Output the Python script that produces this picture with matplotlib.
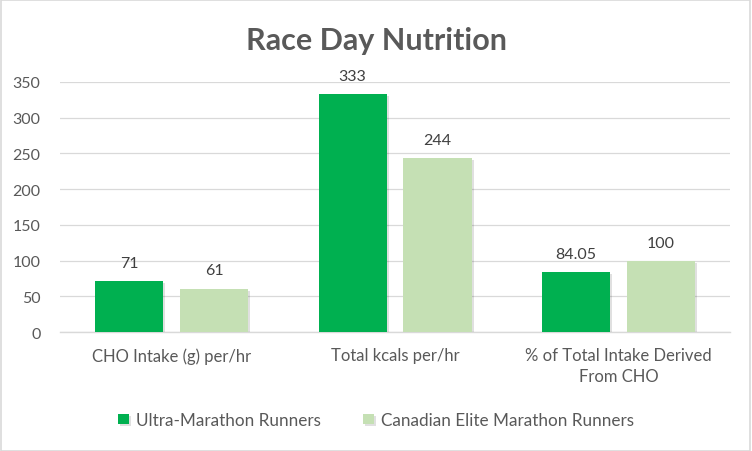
import matplotlib.pyplot as plt
import matplotlib.patheffects as pe
import numpy as np
from matplotlib.patches import Rectangle

categories = ["CHO Intake (g) per/hr", "Total kcals per/hr", "% of Total Intake Derived\nFrom CHO"]
series_names = ["Ultra-Marathon Runners", "Canadian Elite Marathon Runners"]
ultra = [71, 333, 84.05]
elite = [61, 244, 100]
value_labels = [["71", "333", "84.05"], ["61", "244", "100"]]
colors = ["#00B050", "#C5E0B4"]

plt.rcParams["font.family"] = ["Lato", "DejaVu Sans"]

fig = plt.figure(figsize=(7.52, 4.52), dpi=100)
ax = fig.add_axes([0.0798, 0.263, 0.891, 0.5535])

x = np.arange(len(categories))
width = 0.305
offset = 0.19
shadow = [pe.SimplePatchShadow(offset=(1.5, -1.5), shadow_rgbFace="#000000", alpha=0.12), pe.Normal()]

for i, (vals, name) in enumerate(zip([ultra, elite], series_names)):
    pos = x + (offset if i else -offset)
    bars = ax.bar(pos, vals, width, color=colors[i], label=name, zorder=3)
    for b in bars:
        b.set_path_effects(shadow)
    for p, v, lab in zip(pos, vals, value_labels[i]):
        ax.annotate(lab, (p, v), xytext=(0, 8), textcoords="offset points",
                    ha="center", va="bottom", fontsize=11.5, color="#404040")

ax.set_xlim(-0.5, 2.5)
ax.set_ylim(0, 350)
ax.set_yticks(range(0, 351, 50))
ax.set_xticks(x)
ax.set_xticklabels(categories, fontsize=12, linespacing=1.35)
ax.tick_params(axis="both", length=0, colors="#595959")
ax.tick_params(axis="y", labelsize=11.5, pad=14)
ax.tick_params(axis="x", pad=11)
ax.grid(axis="y", color="#D9D9D9", linewidth=0.9, zorder=0)
for s in ["top", "right", "left"]:
    ax.spines[s].set_visible(False)
ax.spines["bottom"].set_color("#D9D9D9")
ax.spines["bottom"].set_linewidth(1.0)

fig.text(0.5, 1 - 41 / 452, "Race Day Nutrition", ha="center", va="center",
         fontsize=22, fontweight="bold", color="#595959")

leg = fig.legend(loc="center", bbox_to_anchor=(0.5, 1 - 421 / 452), ncol=2, frameon=False,
                 fontsize=12.3, handlelength=0.6, handleheight=0.6, handletextpad=0.42,
                 columnspacing=2.5)
for t in leg.get_texts():
    t.set_color("#595959")

fig.patches.append(Rectangle((0.001, 0.001), 0.997, 0.996, transform=fig.transFigure,
                             fill=False, edgecolor="#D9D9D9", linewidth=1.2))

fig.savefig("out.png", dpi=100)
